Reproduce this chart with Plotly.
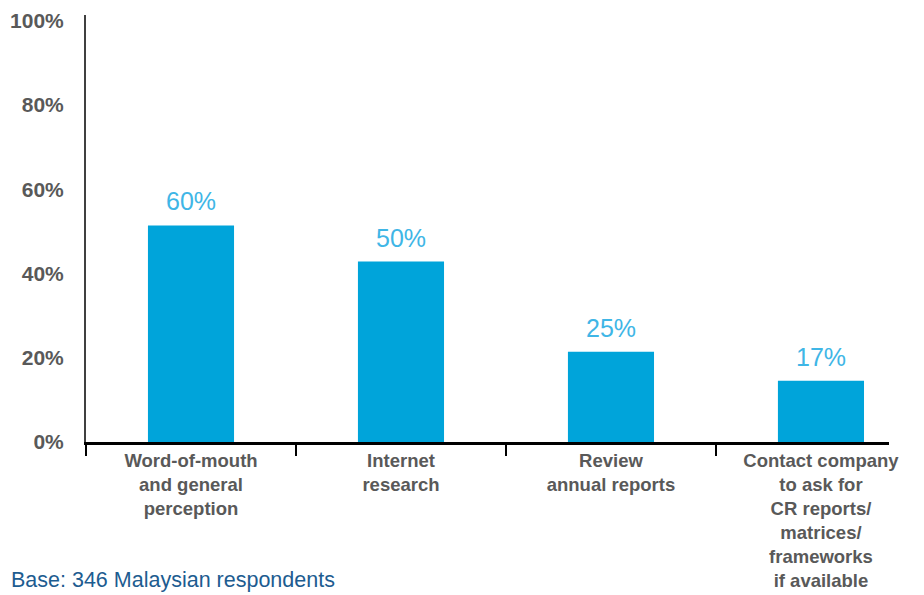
import plotly.graph_objects as go

# Survey results: how respondents assess corporate responsibility
categories = [
    "Word-of-mouth<br>and general<br>perception",
    "Internet<br>research",
    "Review<br>annual reports",
    "Contact company<br>to ask for<br>CR reports/<br>matrices/<br>frameworks<br>if available",
]
values = [60, 50, 25, 17]
tick_steps = [0, 20, 40, 60, 80, 100]
tick_labels = ["0%", "20%", "40%", "60%", "80%", "100%"]
footnote = "Base: 346 Malaysian respondents"

FONT = "Liberation Sans, Arial, Helvetica, sans-serif"
BAR_COLOR = "#00A4DA"
VALUE_COLOR = "#3FB6E6"
AXIS_TEXT = "#595959"

# the value axis of this chart is drawn with a stretched gridline spacing
TICK_SCALE = 1.1675
tick_vals = [t * TICK_SCALE for t in tick_steps]

fig = go.Figure()
fig.add_trace(go.Bar(
    x=categories,
    y=values,
    marker=dict(color=BAR_COLOR, line=dict(width=0)),
    width=0.41,
    hoverinfo="skip",
))

for cat, v in zip(categories, values):
    fig.add_annotation(
        x=cat, y=v, text=f"{v}%", showarrow=False,
        xanchor="center", yanchor="bottom", yshift=8,
        font=dict(family=FONT, size=25, color=VALUE_COLOR),
    )

fig.add_annotation(
    xref="paper", yref="paper", x=-0.0965, y=-0.323,
    xanchor="left", yanchor="middle", showarrow=False,
    text=footnote,
    font=dict(family=FONT, size=21.5, color="#1D5C90"),
)

fig.update_layout(
    width=924, height=595,
    margin=dict(l=86, r=35, t=15, b=153, autoexpand=False),
    paper_bgcolor="white", plot_bgcolor="white",
    showlegend=False,
    bargap=0.59,
    font=dict(family=FONT),
)
fig.update_xaxes(
    range=[-0.5, 3.324],
    automargin=False,
    showline=True, linecolor="black", linewidth=3,
    ticks="outside", tickson="boundaries", ticklen=11, tickwidth=2, tickcolor="black",
    showgrid=False, zeroline=False,
    tickfont=dict(family=FONT, size=18.5, color=AXIS_TEXT, weight="bold"),
    ticklabelstandoff=0,
)
fig.update_yaxes(
    range=[0, 118.3],
    automargin=False,
    tickvals=tick_vals, ticktext=tick_labels,
    showline=True, linecolor="#404040", linewidth=2,
    ticks="", showgrid=False, zeroline=False,
    tickfont=dict(family=FONT, size=21, color=AXIS_TEXT, weight="bold"),
    ticklabelstandoff=16,
)

fig.write_html("out.html")
